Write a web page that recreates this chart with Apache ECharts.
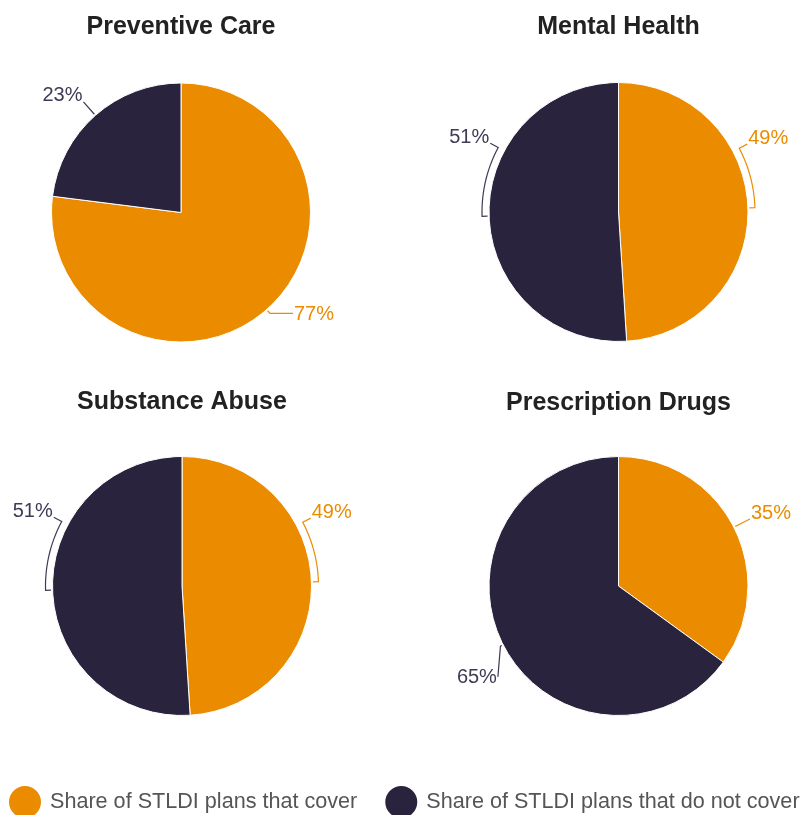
<!DOCTYPE html>
<html>
<head>
<meta charset="utf-8">
<script src="https://cdn.jsdelivr.net/npm/echarts@6/dist/echarts.min.js"></script>
<style>
  html, body { margin: 0; padding: 0; background: #fff; }
  #chart { width: 806px; height: 815px; }
</style>
</head>
<body>
<div id="chart"></div>
<script>
// Legend categories (one per slice colour)
const categories = ['Share of STLDI plans that cover', 'Share of STLDI plans that do not cover'];
// One pie per benefit
const panelTitles = ['Preventive Care', 'Mental Health', 'Substance Abuse', 'Prescription Drugs'];
const coverShare = [77, 49, 49, 35];
const notCoverShare = [23, 51, 51, 65];

// ---- layout & style ----
const ORANGE = '#EB8C00';
const NAVY = '#29233D';
const LABEL_COLORS = ['#EB8C00', '#3F3A55'];
const R = 129.5;
const panels = [
  { cx: 181,   cy: 212.5, titleTop: 15 },
  { cx: 618.5, cy: 212,   titleTop: 15 },
  { cx: 182,   cy: 586,   titleTop: 390 },
  { cx: 618.5, cy: 586,   titleTop: 391 }
];
// Leader line shape for each slice [cover, not cover]:
// shift = angular move of the label away from the slice middle (deg),
// gap = distance off the rim, tail = radial run after the bend, h = horizontal run,
// arc = follow the rim while shifting (otherwise a straight run to the label)
const guides = [
  [{ shift: 0, gap: 5, tail: 0, h: 23 }, { shift: 0, gap: 18, tail: 0, h: 0 }],
  [{ shift: -26, gap: 7, tail: 9, h: 0, arc: true }, { shift: 30, gap: 7, tail: 9, h: 0, arc: true }],
  [{ shift: -26, gap: 7, tail: 9, h: 0, arc: true }, { shift: 30, gap: 7, tail: 9, h: 0, arc: true }],
  [{ shift: 0, gap: 18, tail: 0, h: 0 }, { shift: -10, gap: 3, tail: 18.5, h: 0, arc: false }]
];

// angle measured clockwise from 12 o'clock, in degrees
function polar(cx, cy, r, deg) {
  const a = deg * Math.PI / 180;
  return [cx + r * Math.sin(a), cy - r * Math.cos(a)];
}

function sliceMidAngles(values) {
  const total = values.reduce((s, v) => s + v, 0);
  let acc = 0;
  return values.map(v => {
    const a0 = acc / total * 360;
    acc += v;
    const a1 = acc / total * 360;
    return (a0 + a1) / 2;
  });
}

function leaderLayout(panelIdx) {
  return function (params) {
    const p = panels[panelIdx];
    const i = params.dataIndex;
    const mids = sliceMidAngles([coverShare[panelIdx], notCoverShare[panelIdx]]);
    const g = guides[panelIdx][i];
    const mid = mids[i];
    const target = mid + g.shift;
    const pts = [polar(p.cx, p.cy, R + 1.5, mid)];
    const rr = R + g.gap;
    if (g.shift !== 0 && g.arc) {
      const steps = Math.max(2, Math.ceil(Math.abs(g.shift) / 2));
      for (let k = 0; k <= steps; k++) {
        pts.push(polar(p.cx, p.cy, rr, mid + g.shift * k / steps));
      }
    } else {
      pts.push(polar(p.cx, p.cy, rr, mid));
    }
    if (g.tail) pts.push(polar(p.cx, p.cy, rr + g.tail, target));
    const norm = ((target % 360) + 360) % 360;
    const rightSide = norm > 0 && norm < 180;
    let end = pts[pts.length - 1];
    if (g.h) {
      end = [end[0] + (rightSide ? g.h : -g.h), end[1]];
      pts.push(end);
    }
    const upper = Math.cos(norm * Math.PI / 180) > 0;
    return {
      x: end[0] + (rightSide ? 1 : -1),
      y: end[1] + (upper ? -6 : 1),
      align: rightSide ? 'left' : 'right',
      verticalAlign: 'middle',
      labelLinePoints: pts
    };
  };
}

const series = panelTitles.map((t, idx) => ({
  type: 'pie',
  name: t,
  center: [panels[idx].cx, panels[idx].cy],
  radius: R,
  startAngle: 90,
  clockwise: true,
  avoidLabelOverlap: false,
  animation: false,
  emphasis: { disabled: true },
  itemStyle: { borderColor: '#ffffff', borderWidth: 1 },
  label: {
    show: true,
    position: 'outside',
    formatter: '{c}%',
    fontFamily: "'Liberation Sans', Arial, sans-serif",
    fontSize: 20
  },
  labelLine: { show: true, length: 10, length2: 10, lineStyle: { width: 1.2 } },
  labelLayout: leaderLayout(idx),
  data: [
    { name: categories[0], value: coverShare[idx],
      label: { color: LABEL_COLORS[0] }, labelLine: { lineStyle: { color: LABEL_COLORS[0] } } },
    { name: categories[1], value: notCoverShare[idx],
      label: { color: LABEL_COLORS[1] }, labelLine: { lineStyle: { color: LABEL_COLORS[1] } } }
  ]
}));

const chart = echarts.init(document.getElementById('chart'), null, { renderer: 'canvas' });
chart.setOption({
  backgroundColor: '#ffffff',
  animation: false,
  color: [ORANGE, NAVY],
  title: panelTitles.map((t, idx) => ({
    text: t,
    left: panels[idx].cx,
    top: panels[idx].titleTop,
    textAlign: 'center',
    padding: 0,
    textStyle: {
      fontFamily: "'Liberation Sans', Arial, sans-serif",
      fontWeight: 'bold',
      fontSize: 25,
      color: '#222222'
    }
  })),
  legend: {
    data: categories,
    left: 7,
    top: 784,
    width: 806,
    icon: 'circle',
    itemWidth: 34,
    itemHeight: 34,
    itemGap: 26,
    padding: 0,
    selectedMode: false,
    textStyle: {
      fontFamily: "'Liberation Sans', Arial, sans-serif",
      fontSize: 21.6,
      color: '#555555',
      padding: [0, 0, 0, 3]
    }
  },
  series: series
});
</script>
</body>
</html>
